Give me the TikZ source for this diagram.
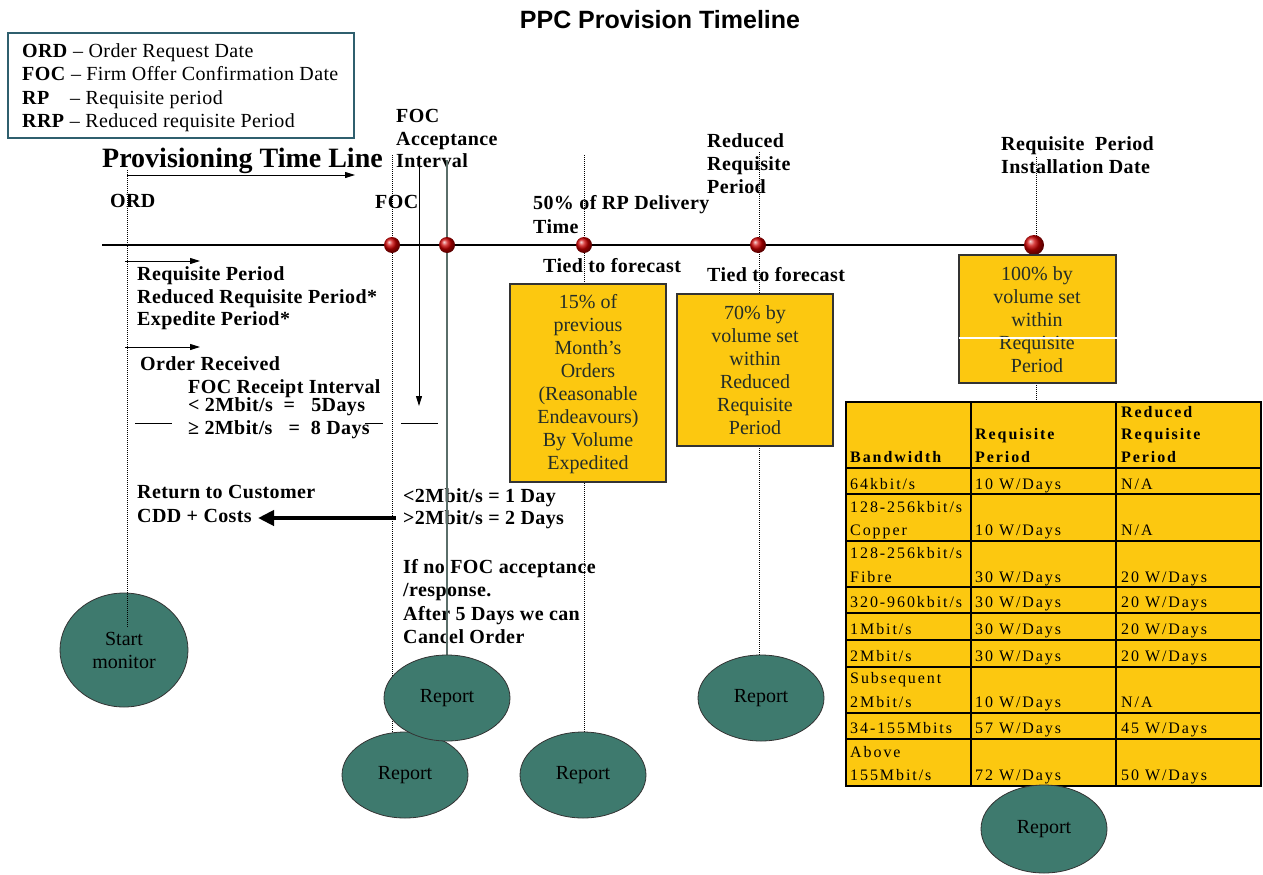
\documentclass[tikz,border=0pt]{standalone}
\usepackage{fontspec}
\setmainfont{Liberation Serif}
\newfontfamily\titlefont{Liberation Sans}
\newfontfamily\lblfont[LetterSpace=2]{Liberation Serif}
\newfontfamily\tabfont[LetterSpace=12]{Liberation Serif}
\usetikzlibrary{arrows.meta,shapes.geometric}
\definecolor{yel}{RGB}{252,200,16}
\definecolor{tealfill}{RGB}{62,122,110}
\definecolor{legborder}{RGB}{47,95,110}
\definecolor{grayline}{RGB}{90,110,105}
\definecolor{boxtext}{RGB}{35,45,40}
\begin{document}
\begin{tikzpicture}[x=1pt,y=-1pt,
  lbl/.style={anchor=base west,inner sep=0,font=\fontsize{20}{23}\lblfont\bfseries},
  leg/.style={anchor=base west,inner sep=0,font=\fontsize{20}{23}\lblfont},
  btx/.style={anchor=base,inner sep=0,text=boxtext,font=\fontsize{20}{23}\selectfont},
  ybox/.style={fill=yel,draw=black!80,line width=1.2pt},
  rep/.style={ellipse,fill=tealfill,draw=black!80,line width=0.8pt,inner sep=0,
     minimum width=126pt,minimum height=86pt,font=\fontsize{20}{23}\selectfont,align=center},
  dotv/.style={densely dotted,line width=1pt},
  tcell/.style={anchor=base west,inner sep=0,font=\fontsize{16}{19}\tabfont},
  thead/.style={anchor=base west,inner sep=0,font=\fontsize{16}{19}\tabfont\bfseries},
  smallarr/.style={-{Triangle[length=10pt,width=6pt]},line width=1pt},
]
\useasboundingbox (0,0) rectangle (1263,875);

% Title
\node[anchor=base,inner sep=0,font=\fontsize{25}{29}\titlefont\bfseries] (title) at (660,29) {PPC Provision Timeline};

% Legend
\draw[legborder,line width=1.2pt,fill=white] (8,33) rectangle (354,138);
\node[leg] (l1) at (22,58) {\textbf{ORD} – Order Request Date};
\node[leg] (l2) at (22,81) {\textbf{FOC} – Firm Offer Confirmation Date};
\node[leg] (l3a) at (22,104) {\textbf{RP}};
\node[leg] (l3b) at (70,104) {– Requisite period};
\node[leg] (l4) at (22,127) {\textbf{RRP} – Reduced requisite Period};

% Provisioning Time Line
\node[anchor=base west,inner sep=0,font=\fontsize{28}{32}\selectfont\bfseries] (ptl) at (102,167) {Provisioning Time Line};
\coordinate (pa1) at (127,175);
\coordinate (pa2) at (355,175);
\draw[smallarr] (pa1) -- (pa2);

% Top labels
\node[lbl] (ord) at (110,207) {ORD};
\node[lbl] (foc) at (375,208) {FOC};
\node[lbl] (fa1) at (396,122) {FOC};
\node[lbl] (fa2) at (396,145) {Acceptance};
\node[lbl] (fa3) at (396,167) {Interval};
\node[lbl] (d1) at (533,209) {50\% of RP Delivery};
\node[lbl] (d2) at (533,233) {Time};
\node[lbl] (rr1) at (707,147) {Reduced};
\node[lbl] (rr2) at (707,170) {Requisite};
\node[lbl] (rr3) at (707,193) {Period};
\node[lbl] (rq1) at (1001,150) {Requisite\ \ Period};
\node[lbl] (rq2) at (1001,173) {Installation Date};
\node[lbl] (tf1) at (543,272) {Tied to forecast};
\node[lbl] (tf2) at (707,281) {Tied to forecast};

% Left labels
\node[lbl] (lp1) at (137,280) {Requisite Period};
\node[lbl] (lp2) at (137,303) {Reduced Requisite Period*};
\node[lbl] (lp3) at (137,325) {Expedite Period*};
\node[lbl] (or) at (140,370) {Order Received};
\node[lbl] (fr1) at (188,393) {FOC Receipt Interval};
\node[lbl] (fr2) at (188,411) {< 2Mbit/s \ = \ \ 5Days};
\node[lbl] (fr3) at (188,434) {≥ 2Mbit/s \ \ = \ 8 Days};
\node[lbl] (rc1) at (137,498) {Return to Customer};
\node[lbl] (rc2) at (137,522) {CDD + Costs};
\node[lbl] (mb1) at (403,502) {<2Mbit/s = 1 Day};
\node[lbl] (mb2) at (403,524) {>2Mbit/s = 2 Days};
\node[lbl] (nf1) at (403,573) {If no FOC acceptance};
\node[lbl] (nf2) at (403,596) {/response.};
\node[lbl] (nf3) at (403,620) {After 5 Days we can};
\node[lbl] (nf4) at (403,643) {Cancel Order};

\coordinate (sa1) at (125,261); \coordinate (sa2) at (200,261);
\draw[smallarr] (sa1) -- (sa2);
\coordinate (sb1) at (125,347); \coordinate (sb2) at (200,347);
\draw[smallarr] (sb1) -- (sb2);

% short horizontal lines
\coordinate (h1a) at (135,423); \coordinate (h1b) at (172,423);
\coordinate (h2a) at (365,423); \coordinate (h2b) at (383,423);
\coordinate (h3a) at (401,423); \coordinate (h3b) at (438,423);
\draw[line width=0.8pt] (h1a) -- (h1b) (h2a) -- (h2b) (h3a) -- (h3b);

% thick return arrow
\coordinate (ta1) at (396,518); \coordinate (ta2) at (258,518);
\draw[line width=4pt,-{Triangle[length=16pt,width=15pt]}] (ta1) -- (ta2);

% Start monitor ellipse
\node[rep,minimum width=128pt,minimum height=114pt] (sm) at (124,650) {Start\\monitor};

% Main timeline
\coordinate (tl1) at (102,245); \coordinate (tl2) at (1025,245);
\draw[line width=1.5pt] (tl1) -- (tl2);

% Dotted verticals
\coordinate (v1a) at (127,170); \coordinate (v1b) at (127,627);
\coordinate (v2a) at (392,155); \coordinate (v2b) at (392,732);
\coordinate (v3a) at (584,155); \coordinate (v3b) at (584,732);
\coordinate (v4a) at (759,152); \coordinate (v4b) at (759,655);
\coordinate (v5a) at (1036,157); \coordinate (v5b) at (1036,401);
\draw[dotv] (v1a) -- (v1b);
\draw[dotv] (v2a) -- (v2b);
\draw[dotv] (v3a) -- (v3b);
\draw[dotv] (v4a) -- (v4b);
\draw[dotv] (v5a) -- (v5b);

% Solid verticals
\coordinate (s1a) at (419,160); \coordinate (s1b) at (419,406);
\draw[smallarr] (s1a) -- (s1b);
\coordinate (s2a) at (447,160); \coordinate (s2b) at (447,656);
\draw[grayline,line width=1.5pt] (s2a) -- (s2b);

% Red balls
\foreach \bx/\br in {392/8,447/8,584/8,758/8,1034/10}{
  \shade[ball color=red!80!black] (\bx,245) circle (\br pt);
}

% Yellow box 1
\draw[ybox] (510,284) rectangle (666,482);
\node[btx] (b1a) at (588,308) {15\% of};
\node[btx] (b1b) at (588,331) {previous};
\node[btx] (b1c) at (588,354) {Month’s};
\node[btx] (b1d) at (588,377) {Orders};
\node[btx] (b1e) at (588,400) {(Reasonable};
\node[btx] (b1f) at (588,423) {Endeavours)};
\node[btx] (b1g) at (588,446) {By Volume};
\node[btx] (b1h) at (588,469) {Expedited};

% Yellow box 2
\draw[ybox] (677,294) rectangle (833,446);
\node[btx] (b2a) at (755,319) {70\% by};
\node[btx] (b2b) at (755,342) {volume set};
\node[btx] (b2c) at (755,365) {within};
\node[btx] (b2d) at (755,388) {Reduced};
\node[btx] (b2e) at (755,411) {Requisite};
\node[btx] (b2f) at (755,434) {Period};

% Yellow box 3
\draw[ybox] (959,255) rectangle (1116,383);
\node[btx] (b3a) at (1037,280) {100\% by};
\node[btx] (b3b) at (1037,303) {volume set};
\node[btx] (b3c) at (1037,326) {within};
\node[btx] (b3d) at (1037,349) {Requisite};
\node[btx] (b3e) at (1037,372) {Period};
\draw[white,line width=1.3pt] (959,338) -- (1118,338);

% Table
\fill[yel] (846,402) rectangle (1261,786);
\draw[line width=2pt] (846,402) rectangle (1261,786);
\foreach \ry in {468,494,541,587,613,640,667,713,739}{
  \draw[line width=2pt] (846,\ry) -- (1261,\ry);
}
\draw[line width=2pt] (971,402) -- (971,786);
\draw[line width=2pt] (1116,402) -- (1116,786);

\node[thead] (th1) at (850,462) {Bandwidth};
\node[thead] (th2a) at (975,439) {Requisite};
\node[thead] (th2b) at (975,462) {Period};
\node[thead] (th3a) at (1121,417) {Reduced};
\node[thead] (th3b) at (1121,439) {Requisite};
\node[thead] (th3c) at (1121,462) {Period};

\node[tcell] (c11) at (850,489) {64kbit/s};
\node[tcell] (c12) at (975,489) {10 W/Days};
\node[tcell] (c13) at (1121,489) {N/A};
\node[tcell] (c21) at (850,512) {128-256kbit/s};
\node[tcell] (c21b) at (850,535) {Copper};
\node[tcell] (c22) at (975,535) {10 W/Days};
\node[tcell] (c23) at (1121,535) {N/A};
\node[tcell] (c31) at (850,558) {128-256kbit/s};
\node[tcell] (c31b) at (850,582) {Fibre};
\node[tcell] (c32) at (975,582) {30 W/Days};
\node[tcell] (c33) at (1121,582) {20 W/Days};
\node[tcell] (c41) at (850,607) {320-960kbit/s};
\node[tcell] (c42) at (975,607) {30 W/Days};
\node[tcell] (c43) at (1121,607) {20 W/Days};
\node[tcell] (c51) at (850,634) {1Mbit/s};
\node[tcell] (c52) at (975,634) {30 W/Days};
\node[tcell] (c53) at (1121,634) {20 W/Days};
\node[tcell] (c61) at (850,661) {2Mbit/s};
\node[tcell] (c62) at (975,661) {30 W/Days};
\node[tcell] (c63) at (1121,661) {20 W/Days};
\node[tcell] (c71) at (850,683) {Subsequent};
\node[tcell] (c71b) at (850,707) {2Mbit/s};
\node[tcell] (c72) at (975,707) {10 W/Days};
\node[tcell] (c73) at (1121,707) {N/A};
\node[tcell] (c81) at (850,733) {34-155Mbits};
\node[tcell] (c82) at (975,733) {57 W/Days};
\node[tcell] (c83) at (1121,733) {45 W/Days};
\node[tcell] (c91) at (850,757) {Above};
\node[tcell] (c91b) at (850,780) {155Mbit/s};
\node[tcell] (c92) at (975,780) {72 W/Days};
\node[tcell] (c93) at (1121,780) {50 W/Days};

% Report ellipses
\node[rep] (rp2) at (405,775) {Report};
\node[rep] (rp1) at (447,698) {Report};
\node[rep] (rp3) at (583,775) {Report};
\node[rep] (rp4) at (761,698) {Report};
\node[rep,minimum height=88pt] (rp5) at (1044,829) {Report};
\end{tikzpicture}
\end{document}
